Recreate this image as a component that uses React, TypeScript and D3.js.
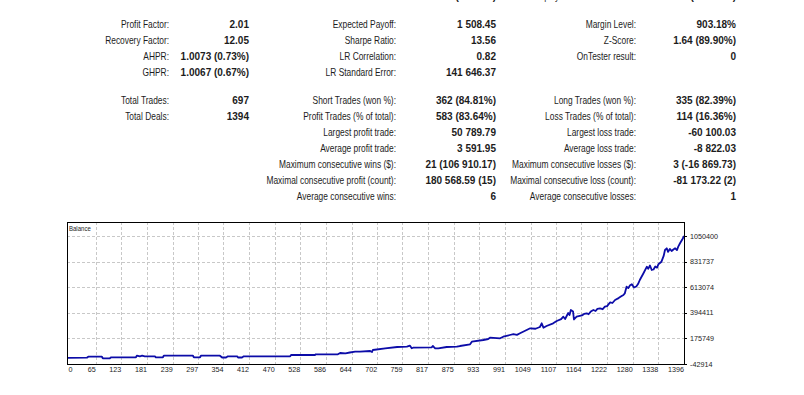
import React from "react";
import * as d3 from "d3";

// ---------- report table data ----------
const topRowCol2Value = "74 944.06 (10.12%)";
const topRowCol3Label = "Equity Drawdown Relative:";
const topRowCol3Value = "10.12% (9 876.54)";

const block1Col1Labels = ["Profit Factor:", "Recovery Factor:", "AHPR:", "GHPR:"];
const block1Col1Values = ["2.01", "12.05", "1.0073 (0.73%)", "1.0067 (0.67%)"];
const block1Col2Labels = ["Expected Payoff:", "Sharpe Ratio:", "LR Correlation:", "LR Standard Error:"];
const block1Col2Values = ["1 508.45", "13.56", "0.82", "141 646.37"];
const block1Col3Labels = ["Margin Level:", "Z-Score:", "OnTester result:"];
const block1Col3Values = ["903.18%", "1.64 (89.90%)", "0"];

const block2Col1Labels = ["Total Trades:", "Total Deals:"];
const block2Col1Values = ["697", "1394"];
const block2Col2Labels = [
  "Short Trades (won %):",
  "Profit Trades (% of total):",
  "Largest profit trade:",
  "Average profit trade:",
  "Maximum consecutive wins ($):",
  "Maximal consecutive profit (count):",
  "Average consecutive wins:",
];
const block2Col2Values = ["362 (84.81%)", "583 (83.64%)", "50 789.79", "3 591.95", "21 (106 910.17)", "180 568.59 (15)", "6"];
const block2Col3Labels = [
  "Long Trades (won %):",
  "Loss Trades (% of total):",
  "Largest loss trade:",
  "Average loss trade:",
  "Maximum consecutive losses ($):",
  "Maximal consecutive loss (count):",
  "Average consecutive losses:",
];
const block2Col3Values = ["335 (82.39%)", "114 (16.36%)", "-60 100.03", "-8 822.03", "3 (-16 869.73)", "-81 173.22 (2)", "1"];

// ---------- chart data ----------
const chartTitle = "Balance";
const xTickLabels = [0, 65, 123, 181, 239, 297, 354, 412, 470, 528, 586, 644, 702, 759, 817, 875, 933, 991, 1049, 1107, 1164, 1222, 1280, 1338, 1396];
const yTickLabels = [-42914, 175749, 394411, 613074, 831737, 1050400];

const dealIndex = [
  0, 45, 48, 79, 81, 97, 100, 156, 158, 165, 170, 176, 199, 201, 217, 219, 285, 287, 301, 303, 346, 351, 360, 364, 385, 387, 396, 400,
  505, 507, 561, 563, 613, 618, 630, 640, 652, 663, 686, 690, 692, 720, 747, 769, 776, 780, 783, 825, 828, 833, 840, 859, 882, 889,
  912, 916, 942, 953, 957, 980, 987, 1002, 1010, 1018, 1025, 1040, 1048, 1060, 1070, 1074, 1078, 1085, 1100, 1108, 1118, 1123, 1127,
  1134, 1137, 1140, 1145, 1147, 1153, 1165, 1170, 1176, 1180, 1185, 1191, 1196, 1200, 1206, 1212, 1217, 1222, 1226, 1229, 1234, 1240,
  1248, 1254, 1259, 1262, 1266, 1270, 1274, 1278, 1283, 1288, 1292, 1296, 1304, 1312, 1315, 1319, 1323, 1327, 1331, 1335, 1338, 1345,
  1350, 1353, 1357, 1360, 1364, 1368, 1372, 1376, 1380, 1383, 1387, 1392, 1396,
];
const balance = [
  10000, 10900, 19400, 19400, 5700, 5700, 14300, 14300, 28000, 22800, 28000, 22800, 22800, 14300, 14300, 28000, 28000, 14300, 14300,
  28000, 28000, 12600, 12600, 22800, 22800, 12600, 12600, 22800, 22800, 34000, 34000, 40000, 40000, 51000, 47000, 55300, 62150, 62150,
  68000, 59600, 76700, 91200, 102300, 104900, 113400, 91200, 96300, 99700, 110800, 91200, 91200, 102300, 104900, 110800, 125300, 147600,
  162100, 170600, 181700, 176600, 190300, 204800, 212000, 206000, 219300, 247500, 262000, 258000, 273100, 304700, 267100, 281700, 304700,
  324400, 340000, 361100, 341400, 392700, 375600, 418300, 405500, 337200, 361100, 372000, 385000, 390100, 382000, 405000, 418300, 410000,
  428000, 432800, 425000, 446500, 452000, 470000, 484000, 478000, 503700, 520000, 535000, 546500, 560000, 617300, 605000, 630000, 637800,
  610000, 619000, 640000, 674600, 730000, 788200, 770000, 798400, 760000, 764300, 790000, 780000, 808700, 830900, 880000, 930800, 945300,
  915000, 940000, 922300, 935000, 945300, 930000, 960000, 988100, 1020000, 1050400,
];

// ---------- layout ----------
const FONT = "'Liberation Sans', Arial, sans-serif";
const TXT = "#1c1c1c";
const SX = 0.84;
const colLabelRight = [169, 396, 636];
const colValueRight = [249, 496, 736];
const block1Base = 28;
const block2Base = 104;
const rowStep = 16;

const frame = { left: 67, right: 684, top: 222, bottom: 364 };
const yAxisTop = 1169956;

function Label({ x, y, text, size = 10, anchor = "end", weight = "normal", sx = SX }: any) {
  return (
    <text
      transform={`translate(${x},${y}) scale(${sx},1)`}
      textAnchor={anchor}
      fontSize={size}
      fontWeight={weight}
      fontFamily={FONT}
      fill={TXT}
    >
      {text}
    </text>
  );
}

function Block({ base, labels, values, col }: any) {
  return (
    <g>
      {labels.map((t: string, i: number) => (
        <Label key={"l" + i} x={colLabelRight[col]} y={base + i * rowStep} text={t} />
      ))}
      {values.map((t: string, i: number) => (
        <Label key={"v" + i} x={colValueRight[col]} y={base + i * rowStep} text={t} weight="bold" sx={1} />
      ))}
    </g>
  );
}

export default function App() {
  const x = d3.scaleLinear().domain([0, 1396]).range([frame.left, frame.right]);
  const y = d3.scaleLinear().domain([-42914, yAxisTop]).range([frame.bottom, frame.top]);
  const line = d3
    .line<number>()
    .x((_, i) => x(dealIndex[i]))
    .y((d) => y(d));

  const vGrid = xTickLabels.filter((v) => v > 0 && v < 1396);
  const hGrid = yTickLabels.filter((v) => v > -42914);

  return (
    <svg
      width={804}
      height={395}
      style={{ position: "absolute", left: 0, top: 0, background: "#fff" }}
    >
      <rect x={0} y={0} width={804} height={395} fill="#fff" />
      {/* partially visible row at the very top */}
      <Label x={colValueRight[1]} y={0} text={topRowCol2Value} weight="bold" sx={1} />
      <Label x={colLabelRight[2]} y={0} text={topRowCol3Label} />
      <Label x={colValueRight[2]} y={0} text={topRowCol3Value} weight="bold" sx={1} />

      <Block base={block1Base} labels={block1Col1Labels} values={block1Col1Values} col={0} />
      <Block base={block1Base} labels={block1Col2Labels} values={block1Col2Values} col={1} />
      <Block base={block1Base} labels={block1Col3Labels} values={block1Col3Values} col={2} />
      <Block base={block2Base} labels={block2Col1Labels} values={block2Col1Values} col={0} />
      <Block base={block2Base} labels={block2Col2Labels} values={block2Col2Values} col={1} />
      <Block base={block2Base} labels={block2Col3Labels} values={block2Col3Values} col={2} />

      {/* chart */}
      <g>
        {vGrid.map((v) => (
          <line
            key={"vg" + v}
            x1={Math.round(x(v)) + 0.5}
            x2={Math.round(x(v)) + 0.5}
            y1={frame.top}
            y2={frame.bottom}
            stroke="#c8c8c8"
            strokeDasharray="3 2"
            strokeWidth={1}
          />
        ))}
        {hGrid.map((v) => (
          <line
            key={"hg" + v}
            x1={frame.left}
            x2={frame.right}
            y1={Math.round(y(v)) + 0.5}
            y2={Math.round(y(v)) + 0.5}
            stroke="#c8c8c8"
            strokeDasharray="3 2"
            strokeWidth={1}
          />
        ))}
        <path d={line(balance) || ""} fill="none" stroke="#0c0ca8" strokeWidth={1.8} strokeLinejoin="round" />
        <rect
          x={frame.left + 0.5}
          y={frame.top + 0.5}
          width={frame.right - frame.left}
          height={frame.bottom - frame.top}
          fill="none"
          stroke="#000"
          strokeWidth={1}
        />
        <Label x={frame.left + 2} y={frame.top + 9} text={chartTitle} size={7.2} anchor="start" />
        {xTickLabels.map((v) => (
          <Label
            key={"xt" + v}
            x={v === 0 ? frame.left + 1.5 : x(v)}
            y={frame.bottom + 7.7}
            text={String(v)}
            size={7.2}
            anchor={v === 0 ? "start" : "end"}
            sx={1}
          />
        ))}
        {yTickLabels.map((v) => (
          <Label key={"yt" + v} x={frame.right + 6} y={y(v) + 2.6} text={String(v)} size={7.2} anchor="start" sx={1} />
        ))}
        {yTickLabels.map((v) => (
          <line key={"ytm" + v} x1={frame.right} x2={frame.right + 3} y1={Math.round(y(v)) + 0.5} y2={Math.round(y(v)) + 0.5} stroke="#000" />
        ))}
      </g>
    </svg>
  );
}
